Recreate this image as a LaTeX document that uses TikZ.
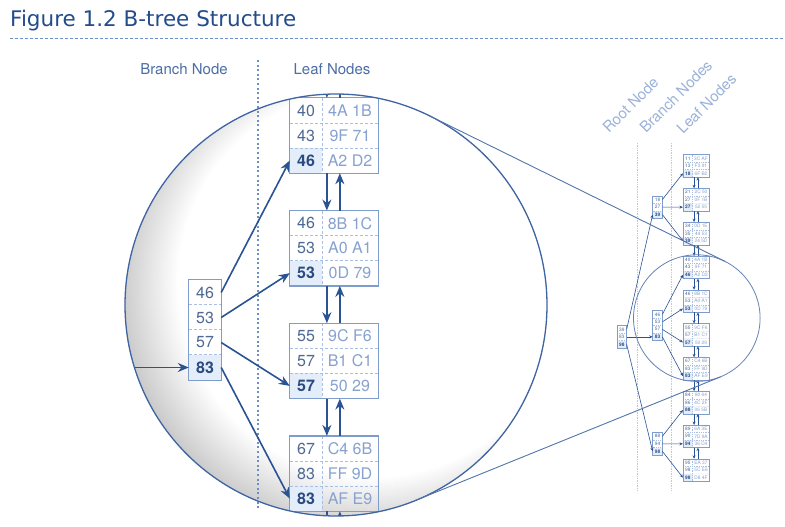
\documentclass[tikz,border=0pt]{standalone}
\usepackage{fontspec}
\newfontfamily\titlefont{DejaVu Sans}
\newfontfamily\treefont{TeX Gyre Heros}
\usetikzlibrary{arrows.meta,calc}

\definecolor{titleblue}{HTML}{244C8C}
\definecolor{ruleblue}{HTML}{6B90CA}
\definecolor{boxblue}{HTML}{7F9DCC}
\definecolor{sepblue}{HTML}{A9BFE3}
\definecolor{keyblue}{HTML}{4D6994}
\definecolor{keybold}{HTML}{2B4B80}
\definecolor{valblue}{HTML}{87A2CF}
\definecolor{hlblue}{HTML}{E4EDFA}
\definecolor{arrblue}{HTML}{2A5393}
\definecolor{lensblue}{HTML}{3F64A3}
\definecolor{labblue}{HTML}{4C6DA5}
\definecolor{faintblue}{HTML}{9BB2DA}
\definecolor{dotblue}{HTML}{6E8FC3}

\pgfdeclareradialshading{lens}{\pgfpoint{8bp}{5bp}}{color(0bp)=(white); color(23bp)=(white); color(29bp)=(black!21); color(50bp)=(black!21)}

% line widths, changed for the small view
\def\bw{1.2pt}\def\sw{0.9pt}\def\aw{1.6pt}\def\al{11pt}\def\ad{9pt}\def\don{3pt}\def\doff{2pt}

\tikzset{
  cell/.style={inner sep=0pt, minimum height=25pt, font=\treefont\fontsize{16pt}{16pt}\selectfont},
  keycell/.style={cell, minimum width=32pt, text=keyblue},
  lastcell/.style={keycell, fill=hlblue, text=keybold, font=\treefont\bfseries\fontsize{16pt}{16pt}\selectfont},
  valcell/.style={cell, minimum width=56pt, text=valblue},
  boxline/.style={draw=boxblue, line width=\bw},
  sepline/.style={draw=sepblue, line width=\sw, dash pattern=on \don off \doff},
  arr/.style={draw=arrblue, line width=\aw, -{Stealth[length=\al, width=\ad]}},
  headlabel/.style={font=\treefont\fontsize{15pt}{15pt}\selectfont, text=labblue, anchor=base},
  sidelabel/.style={font=\treefont\fontsize{15pt}{15pt}\selectfont, text=faintblue, rotate=45, anchor=base west, inner sep=0pt},
}

% the whole tree, in the coordinates of the big view
\newcommand\btree{%
  % root node
  \node[keycell]  (R-1) at (86,342.5) {39};
  \node[keycell]  (R-2) at (86,367.5) {83};
  \node[lastcell] (R-3) at (86,392.5) {98};
  % branch nodes
  \node[keycell]  (B1-1) at (205,-90) {18};
  \node[keycell]  (B1-2) at (205,-65) {27};
  \node[lastcell] (B1-3) at (205,-40) {39};
  \node[keycell]  (B2-1) at (205,292.5) {46};
  \node[keycell]  (B2-2) at (205,317.5) {53};
  \node[keycell]  (B2-3) at (205,342.5) {57};
  \node[lastcell] (B2-4) at (205,367.5) {83};
  \node[keycell]  (B3-1) at (205,699) {88};
  \node[keycell]  (B3-2) at (205,724) {94};
  \node[lastcell] (B3-3) at (205,749) {98};
  \foreach \bn/\nr in {R/3,B1/3,B2/4,B3/3} {
    \foreach \rw in {2,...,\nr}
      \draw[sepline] (\bn-\rw.north west) -- (\bn-\rw.north east);
    \draw[boxline] (\bn-1.north west) rectangle (\bn-\nr.south east);
  }
  % leaf nodes
  \foreach \li/\ka/\va/\kb/\vb/\kc/\vc in {
      1/11/3C AF/13/F3 91/18/6F B2, 2/21/2C 50/27/0F 1B/27/52 55,
      3/34/0D 1E/35/44 53/39/24 5D, 4/40/4A 1B/43/9F 71/46/A2 D2,
      5/46/8B 1C/53/A0 A1/53/0D 79, 6/55/9C F6/57/B1 C1/57/50 29,
      7/67/C4 6B/83/FF 9D/83/AF E9, 8/84/80 64/86/4C 2F/88/06 5B,
      9/89/6A 3E/90/7D 9A/94/36 D4, 10/95/EA 37/98/5C E6/98/D8 4F} {
    \pgfmathsetmacro\ty{-227.6+(\li-1)*112.7}
    \node[keycell]  (L\li-k1) at (306,\ty)    {\ka};
    \node[valcell]  (L\li-v1) at (350,\ty)    {\va};
    \node[keycell]  (L\li-k2) at (306,\ty+25) {\kb};
    \node[valcell]  (L\li-v2) at (350,\ty+25) {\vb};
    \node[lastcell] (L\li-k3) at (306,\ty+50) {\kc};
    \node[valcell]  (L\li-v3) at (350,\ty+50) {\vc};
    \draw[sepline] (L\li-k1.south west) -- (L\li-v1.south east);
    \draw[sepline] (L\li-k2.south west) -- (L\li-v2.south east);
    \draw[sepline] (L\li-k1.north east) -- (L\li-k3.south east);
    \draw[boxline] (L\li-k1.north west) rectangle (L\li-v3.south east);
  }
  % pointers
  \draw[arr] (R-1.east) -- (B1-3.west);
  \draw[arr] (R-2.east) -- (B2-4.west);
  \draw[arr] (R-3.east) -- (B3-3.west);
  \foreach \bn/\rw/\lf in {B1/1/1,B1/2/2,B1/3/3,B2/1/4,B2/2/5,B2/3/6,B2/4/7,B3/1/8,B3/2/9,B3/3/10}
    \draw[arr] (\bn-\rw.east) -- (L\lf-k3.west);
  \foreach \li [evaluate=\li as \nx using int(\li+1)] in {1,...,9} {
    \draw[arr] ($(L\li-v3.south west)!.09!(L\li-v3.south east)$) -- ($(L\nx-v1.north west)!.09!(L\nx-v1.north east)$);
    \draw[arr] ($(L\nx-v1.north west)!.32!(L\nx-v1.north east)$) -- ($(L\li-v3.south west)!.32!(L\li-v3.south east)$);
  }
}

\begin{document}
\begin{tikzpicture}[x=1pt,y=-1pt]
\path[fill=white, use as bounding box] (0,0) rectangle (785,527);

\node[anchor=base west, inner sep=0pt, text=titleblue, font=\titlefont\fontsize{21.5pt}{21.5pt}\selectfont] (title) at (10,26.5) {Figure 1.2 B-tree Structure};
\draw[ruleblue, line width=0.8pt, dash pattern=on 3pt off 2pt] (10,38) -- (785,38);

% big view
\node[headlabel] (branchlab) at (184,75) {Branch Node};
\node[headlabel] (leaflab) at (332,75) {Leaf Nodes};
\shade[shading=lens] (336,305) circle[radius=211];
\draw[dotblue, line width=1.6pt, dash pattern=on 2pt off 2.6pt] (258,60) -- (258,510);
\begin{scope}[name prefix=big-]
  \clip (336,305) circle[radius=211];
  \btree
\end{scope}
\draw[lensblue, line width=1.3pt] (336,305) circle[radius=211];

% small view
\node[sidelabel] (rootlab) at (609,134) {Root Node};
\node[sidelabel] (branchslab) at (646,134) {Branch Nodes};
\node[sidelabel] (leafslab) at (683,135) {Leaf Nodes};
\draw[faintblue!70, line width=0.6pt, dash pattern=on 0.8pt off 0.9pt] (637,143) -- (637,490);
\draw[faintblue!70, line width=0.6pt, dash pattern=on 0.8pt off 0.9pt] (671,143) -- (671,490);
\begin{scope}[shift={(596,226.6)}, scale=0.3, transform shape, name prefix=small-]
  \def\bw{0.5pt}\def\sw{0.35pt}\def\aw{0.6pt}\def\al{3.5pt}\def\ad{3pt}\def\don{1pt}\def\doff{0.8pt}
  \btree
  \draw[lensblue!80, line width=0.8pt] (336,305) circle[radius=211];
\end{scope}

% lines of the lens
\coordinate (t1) at (429.2,115.7);
\coordinate (t2) at (724.8,261.3);
\coordinate (t3) at (415.3,500.5);
\coordinate (t4) at (720.6,376.8);
\draw[lensblue!90, line width=0.9pt] (t1) -- (t2);
\draw[lensblue!90, line width=0.9pt] (t3) -- (t4);
\end{tikzpicture}
\end{document}
